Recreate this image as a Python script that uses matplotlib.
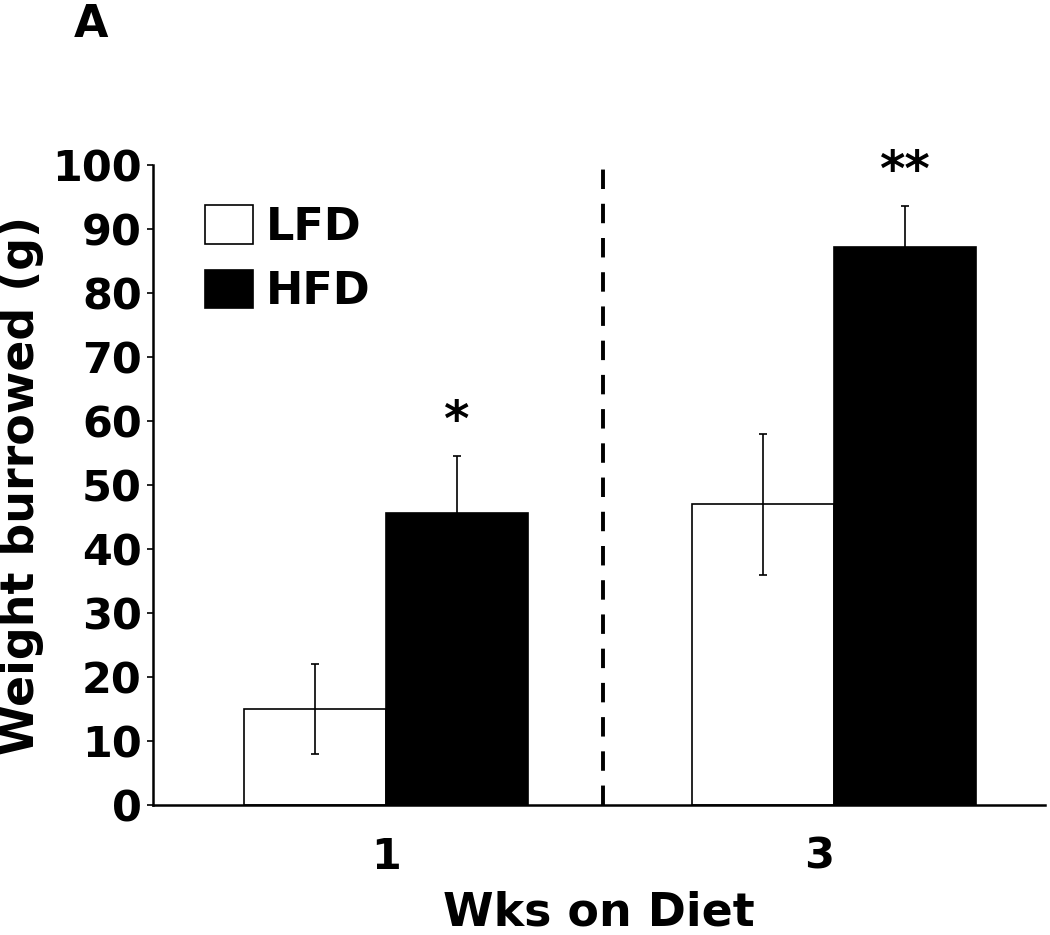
import numpy as np
import matplotlib
matplotlib.use("Agg")
import matplotlib.pyplot as plt

weeks = ["1", "3"]
lfd_mean = [15.0, 47.0]
lfd_err = [7.0, 11.0]
hfd_mean = [45.6, 87.2]
hfd_err = [9.0, 6.4]
stars = ["*", "**"]

plt.rcParams['font.family'] = 'DejaVu Sans'
plt.rcParams['font.weight'] = 'bold'

fig = plt.figure(figsize=(10.5, 9.35), dpi=100)
ax = fig.add_axes([0.1457, 0.139, 0.8493, 0.6845])

x = np.arange(len(weeks))
w = 0.317

ax.bar(x - w / 2, lfd_mean, w, color='white', edgecolor='black', linewidth=1.2,
       yerr=lfd_err, error_kw=dict(ecolor='black', elinewidth=1.2, capsize=3, capthick=1.2),
       label='LFD', zorder=2)
ax.bar(x + w / 2, hfd_mean, w, color='black', edgecolor='black', linewidth=1.2,
       yerr=hfd_err, error_kw=dict(ecolor='black', elinewidth=1.2, capsize=3, capthick=1.2),
       label='HFD', zorder=2)

# significance marks
for i in range(len(weeks)):
    ax.text(x[i] + w / 2, hfd_mean[i] + hfd_err[i] + 1.5, stars[i], ha='center', va='bottom',
            fontsize=35, fontweight='bold')

# separator between weeks
ax.axvline(0.485, color='black', linewidth=2.8, dashes=(5, 3.8), zorder=1)

ax.set_ylim(0, 100)
ax.set_xlim(-0.52, 1.47)
ax.set_yticks(range(0, 101, 10))
ax.set_xticks(x + np.array([0, -0.034]))
ax.set_xticklabels(weeks)
ax.tick_params(axis='y', labelsize=31, length=4, width=1.2, pad=4)
ax.tick_params(axis='x', labelsize=31, length=0, pad=22)
for lab in ax.get_xticklabels() + ax.get_yticklabels():
    lab.set_fontweight('bold')

ax.spines['top'].set_visible(False)
ax.spines['right'].set_visible(False)
ax.spines['left'].set_linewidth(1.8)
ax.spines['bottom'].set_linewidth(1.8)

ax.set_ylabel('Weight burrowed (g)', fontsize=33, fontweight='bold', labelpad=6)
ax.set_xlabel('Wks on Diet', fontsize=33, fontweight='bold', labelpad=9)

leg = ax.legend(loc='upper left', bbox_to_anchor=(0.038, 0.965), frameon=False,
                fontsize=32, handlelength=1.08, handleheight=0.95, handletextpad=0.3,
                labelspacing=0.48, borderaxespad=0)
for t in leg.get_texts():
    t.set_fontweight('bold')

fig.text(0.07, 0.997, 'A', fontsize=32, fontweight='bold', va='top', ha='left')

fig.savefig('out.png', dpi=100)
